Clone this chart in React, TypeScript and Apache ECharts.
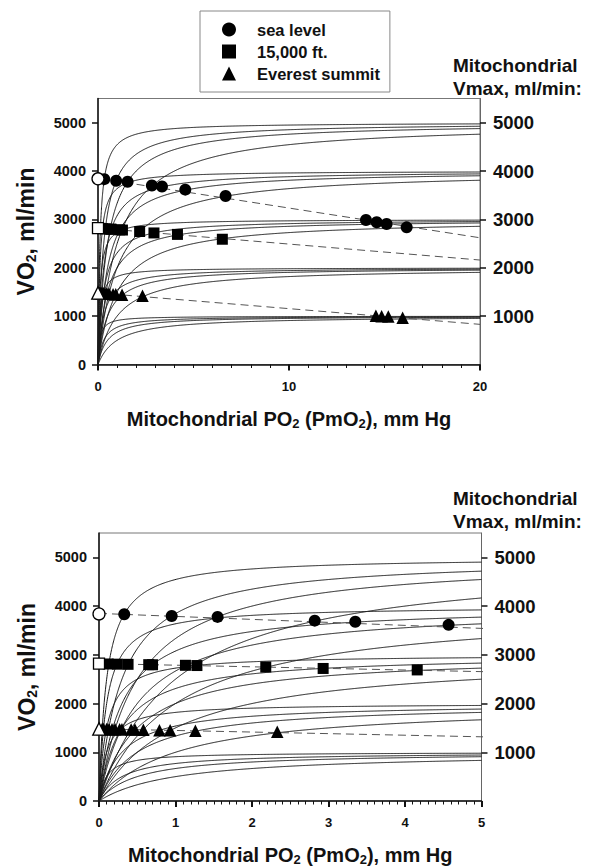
import React, { useEffect, useRef } from 'react';
import * as echarts from 'echarts';

// Mitochondrial model curve parameters
const vmaxValues = [1000, 2000, 3000, 4000, 5000];
const p50Values = [0.1, 0.3, 0.5, 1.0];

// Data points (PmO2 mm Hg, VO2 ml/min)
const seaLevelP = [0.33, 0.95, 1.55, 2.82, 3.35, 4.57, 6.68, 14.03, 14.59, 15.11, 16.16];
const seaLevelVO2 = [3832, 3798, 3778, 3701, 3680, 3615, 3484, 2987, 2940, 2905, 2836];
const ft15000P = [0.12, 0.24, 0.38, 0.65, 0.7, 1.13, 1.28, 2.18, 2.93, 4.16, 6.51];
const ft15000VO2 = [2812, 2808, 2805, 2798, 2796, 2785, 2780, 2750, 2720, 2690, 2590];
const everestP = [0.04, 0.06, 0.1, 0.13, 0.17, 0.21, 0.27, 0.3, 0.42, 0.47, 0.58, 0.79, 0.93, 1.26, 2.33, 14.55, 14.85, 15.2, 15.95];
const everestVO2 = [1478, 1477, 1476, 1475, 1474, 1473, 1471, 1470, 1466, 1465, 1461, 1454, 1450, 1440, 1420, 1010, 1000, 990, 965];

// Open symbols at PmO2 = 0
const startVO2 = [3840, 2820, 1480];

// Dashed O2 supply lines (PmO2 endpoints and VO2 endpoints)
const supplyP = [0, 20];
const seaLineVO2 = [3850, 2620];
const ft15000LineVO2 = [2820, 2160];
const everestLineVO2 = [1480, 830];

// Axis ticks
const yTicks = [0, 1000, 2000, 3000, 4000, 5000];
const yRightTicks = [1000, 2000, 3000, 4000, 5000];
const panelXMax = [20, 5];
const panelXInterval = [10, 1];

const seriesNames = ['sea level', '15,000 ft.', 'Everest summit'];
const symbols = ['circle', 'rect', 'triangle'];

const FONT = "'Liberation Sans', Arial, Helvetica, sans-serif";

function sampleP(maxP: number): number[] {
  const out: number[] = [];
  for (let p = 0; p < 1; p += 0.004) out.push(p);
  const step = maxP / 500;
  for (let p = 1; p <= maxP + 1e-9; p += step) out.push(p);
  return out;
}

const plain = (v: number) => String(v);

function buildOption() {
  const series: any[] = [];
  const grids: any[] = [
    { left: 98, top: 98.5, width: 382, height: 266 },
    { left: 99, top: 533, width: 382.5, height: 268 },
  ];
  const xAxes: any[] = [];
  const yAxes: any[] = [];
  const pointSets = [
    [seaLevelP, seaLevelVO2],
    [ft15000P, ft15000VO2],
    [everestP, everestVO2],
  ];
  const lineSets = [seaLineVO2, ft15000LineVO2, everestLineVO2];
  const sizes = [12, 11, 12.5];

  for (let g = 0; g < 2; g++) {
    xAxes.push({
      type: 'value',
      gridIndex: g,
      min: 0,
      max: panelXMax[g],
      interval: panelXInterval[g],
      axisLine: { onZero: false, lineStyle: { color: '#111', width: 1.5 } },
      axisTick: { length: 6, lineStyle: { color: '#111', width: 2 } },
      minorTick: { show: true, splitNumber: 10, length: 3.5, lineStyle: { color: '#111', width: 1 } },
      splitLine: { show: false },
      axisLabel: { margin: 15, fontSize: 13, fontWeight: 'bold', color: '#111', fontFamily: FONT, formatter: plain },
      name: '{b|Mitochondrial PO}{s|2}{b| (PmO}{s|2}{b|), mm Hg}',
      nameLocation: 'middle',
      nameGap: 43,
      nameTextStyle: {
        rich: {
          b: { fontSize: 20, fontWeight: 'bold', color: '#111', fontFamily: FONT },
          s: { fontSize: 13, fontWeight: 'bold', color: '#111', fontFamily: FONT, padding: [9, 0, 0, 0] },
        },
      },
    });
    yAxes.push({
      type: 'value',
      gridIndex: g,
      position: 'left',
      min: 0,
      max: 5500,
      interval: 1000,
      axisLine: { show: true, onZero: false, lineStyle: { color: '#111', width: 1.5 } },
      axisTick: { show: true, length: 6, customValues: yTicks, lineStyle: { color: '#111', width: 1.5 } },
      splitLine: { show: false },
      axisLabel: { customValues: yTicks, margin: 12, fontSize: 14.5, fontWeight: 'bold', color: '#111', fontFamily: FONT, formatter: plain },
      name: '{b|VO}{s|2}{b|, ml/min}',
      nameLocation: 'middle',
      nameGap: 60,
      nameTextStyle: {
        rich: {
          b: { fontSize: 23, fontWeight: 'bold', color: '#111', fontFamily: FONT },
          s: { fontSize: 14, fontWeight: 'bold', color: '#111', fontFamily: FONT, padding: [10, 0, 0, 0] },
        },
      },
    });
    yAxes.push({
      type: 'value',
      gridIndex: g,
      position: 'right',
      min: 0,
      max: 5500,
      interval: 1000,
      axisLine: { show: true, onZero: false, lineStyle: { color: '#666', width: 1 } },
      axisTick: { show: true, length: 6, customValues: yRightTicks, lineStyle: { color: '#111', width: 1.5 } },
      splitLine: { show: false },
      axisLabel: { customValues: yRightTicks, margin: 13, fontSize: 18.5, fontWeight: 'bold', color: '#111', fontFamily: FONT, formatter: plain },
    });

    const xs = sampleP(panelXMax[g]);
    const yIdx = g * 2;
    // model curves
    vmaxValues.forEach((vm) => {
      p50Values.forEach((k) => {
        series.push({
          type: 'line',
          name: `Vmax ${vm}, P50 ${k}`,
          xAxisIndex: g,
          yAxisIndex: yIdx,
          showSymbol: false,
          symbol: 'none',
          silent: true,
          clip: true,
          z: 2,
          lineStyle: { color: '#1a1a1a', width: 1 },
          data: xs.map((p) => [p, (vm * p) / (k + p)]),
        });
      });
    });
    // dashed supply lines
    lineSets.forEach((ln, i) => {
      series.push({
        type: 'line',
        name: `${seriesNames[i]} supply`,
        xAxisIndex: g,
        yAxisIndex: yIdx,
        showSymbol: false,
        symbol: 'none',
        silent: true,
        clip: true,
        z: 3,
        lineStyle: { color: '#555', width: 1, type: [8, 5] },
        data: supplyP.map((p, j) => [p, ln[j]]),
      });
    });
    // data points
    pointSets.forEach((ps, i) => {
      series.push({
        type: 'scatter',
        name: seriesNames[i],
        xAxisIndex: g,
        yAxisIndex: yIdx,
        symbol: symbols[i],
        symbolSize: sizes[i],
        clip: false,
        z: 5,
        itemStyle: { color: '#000', opacity: 1 },
        data: ps[0].map((p, j) => [p, ps[1][j]]),
      });
      series.push({
        type: 'scatter',
        name: `${seriesNames[i]} (PmO2 = 0)`,
        xAxisIndex: g,
        yAxisIndex: yIdx,
        symbol: symbols[i],
        symbolSize: sizes[i],
        clip: false,
        z: 6,
        itemStyle: { color: '#fff', borderColor: '#000', borderWidth: 1.3, opacity: 1 },
        data: [[0, startVO2[i]]],
      });
    });
  }

  return {
    animation: false,
    backgroundColor: '#fff',
    title: [
      {
        text: 'Mitochondrial\nVmax, ml/min:',
        left: 453,
        top: 54,
        padding: 0,
        textStyle: { fontSize: 19, fontWeight: 'bold', lineHeight: 23, color: '#111', fontFamily: FONT },
      },
      {
        text: 'Mitochondrial\nVmax, ml/min:',
        left: 453,
        top: 487,
        padding: 0,
        textStyle: { fontSize: 19, fontWeight: 'bold', lineHeight: 23, color: '#111', fontFamily: FONT },
      },
    ],
    legend: {
      orient: 'vertical',
      left: 200,
      top: 11,
      padding: [10, 10, 10, 22],
      itemGap: 5,
      itemWidth: 14,
      itemHeight: 14,
      borderColor: '#888',
      borderWidth: 1,
      backgroundColor: '#fff',
      selectedMode: false,
      data: seriesNames.map((n, i) => ({ name: n, icon: symbols[i] })),
      textStyle: { fontSize: 16.5, fontWeight: 'bold', color: '#111', fontFamily: FONT, padding: [0, 0, 0, 16] },
    },
    grid: grids.map((gr) => ({ ...gr, show: true, borderColor: '#777', borderWidth: 1, backgroundColor: 'transparent' })),
    xAxis: xAxes,
    yAxis: yAxes,
    series,
  };
}

export default function App() {
  const ref = useRef<HTMLDivElement>(null);
  useEffect(() => {
    if (!ref.current) return;
    const chart = echarts.init(ref.current, undefined, { renderer: 'svg' });
    chart.setOption(buildOption() as any);
    return () => chart.dispose();
  }, []);
  return (
    <div
      ref={ref}
      style={{ position: 'absolute', left: 0, top: 0, width: 591, height: 868, background: '#fff' }}
    />
  );
}
